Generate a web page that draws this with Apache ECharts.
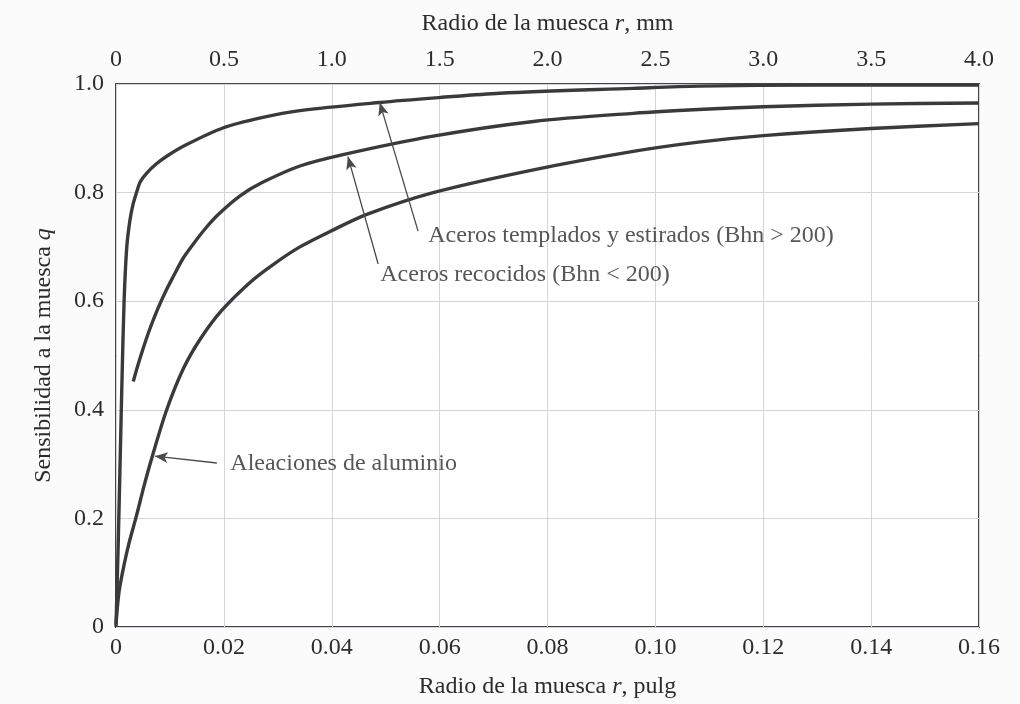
<!DOCTYPE html>
<html><head><meta charset="utf-8">
<script src="https://cdn.jsdelivr.net/npm/echarts@6/dist/echarts.min.js"></script>
<style>html,body{margin:0;padding:0;background:#fbfbfb}#c{width:1020px;height:704px}</style>
</head><body><div id="c"></div>
<script>
// Radio de la muesca r (pulg) and sensibilidad q
const templadosR = [0, 0.0004, 0.0008, 0.0011, 0.0015, 0.002, 0.0026, 0.0032, 0.0038, 0.0045, 0.0057, 0.0075, 0.0094, 0.013, 0.0198, 0.027, 0.0341, 0.0489, 0.06, 0.0712, 0.0959, 0.108, 0.13, 0.16];
const templadosQ = [0, 0.15, 0.32, 0.45, 0.60, 0.70, 0.75, 0.78, 0.80, 0.82, 0.836, 0.853, 0.867, 0.888, 0.919, 0.938, 0.951, 0.966, 0.975, 0.983, 0.992, 0.996, 0.998, 0.998];
const recocidosR = [0.0032, 0.0040, 0.0050, 0.0062, 0.0077, 0.0092, 0.0106, 0.0125, 0.0143, 0.0165, 0.0190, 0.023, 0.027, 0.0341, 0.0421, 0.0588, 0.0774, 0.0959, 0.108, 0.120, 0.140, 0.16];
const recocidosQ = [0.452, 0.480, 0.512, 0.547, 0.585, 0.618, 0.645, 0.680, 0.705, 0.733, 0.760, 0.794, 0.818, 0.849, 0.870, 0.904, 0.931, 0.946, 0.953, 0.958, 0.963, 0.965];
const aluminioR = [0, 0.0005, 0.0012, 0.0023, 0.0038, 0.0052, 0.0066, 0.0094, 0.0125, 0.0156, 0.0196, 0.025, 0.0292, 0.0341, 0.040, 0.0465, 0.0588, 0.0774, 0.0959, 0.108, 0.12, 0.14, 0.16];
const aluminioQ = [0.005, 0.06, 0.10, 0.15, 0.205, 0.26, 0.31, 0.40, 0.476, 0.530, 0.583, 0.636, 0.668, 0.70, 0.730, 0.760, 0.80, 0.842, 0.876, 0.893, 0.905, 0.918, 0.927];

// Tick labels
const bottomTicks = ['0', '0.02', '0.04', '0.06', '0.08', '0.10', '0.12', '0.14', '0.16'];
const topTicks = ['0', '0.5', '1.0', '1.5', '2.0', '2.5', '3.0', '3.5', '4.0'];
const leftTicks = ['0', '0.2', '0.4', '0.6', '0.8', '1.0'];

// Annotations (data coordinates: r in pulg, q)
const labelTexts = ['Aceros templados y estirados (Bhn > 200)', 'Aceros recocidos (Bhn < 200)', 'Aleaciones de aluminio'];
const labelR = [0.0578, 0.0489, 0.0211];
const labelQ = [0.72, 0.648, 0.300];
const arrowTailR = [0.0560, 0.0486, 0.0187];
const arrowTailQ = [0.729, 0.6685, 0.302];
const arrowHeadR = [0.0489, 0.0430, 0.0072];
const arrowHeadQ = [0.9658, 0.8663, 0.3145];

const zip = (a, b) => a.map((v, i) => [v, b[i]]);
const FONT = '"Liberation Serif", "DejaVu Serif", serif';
const INK = '#3a3a3a';
const TXT = '#2c2c2c';

const curveStyle = { color: INK, width: 3.4 };
function curve(name, r, q) {
  return {
    name, type: 'line', data: zip(r, q), showSymbol: false, symbol: 'none',
    smooth: 0.3, lineStyle: curveStyle, silent: true,
    xAxisIndex: 0, yAxisIndex: 0, z: 3
  };
}

const chart = echarts.init(document.getElementById('c'), null, { renderer: 'canvas' });
chart.setOption({
  animation: false,
  backgroundColor: '#fbfbfb',
  textStyle: { fontFamily: FONT, color: TXT },
  grid: { left: 116, right: 41, top: 84, bottom: 74, show: true, backgroundColor: '#ffffff', borderColor: '#454545', borderWidth: 2 },
  xAxis: [
    {
      type: 'value', position: 'bottom', min: 0, max: 0.16, interval: 0.02,
      axisLine: { show: false }, axisTick: { show: false },
      splitLine: { show: true, lineStyle: { color: '#d4d4dc', width: 1 } },
      axisLabel: { fontFamily: FONT, fontSize: 24, color: TXT, margin: 9,
        formatter: v => bottomTicks[Math.round(v / 0.02)] },
      name: 'Radio de la muesca {i|r}, pulg', nameLocation: 'middle', nameGap: 48,
      nameTextStyle: { fontFamily: FONT, fontSize: 24, color: TXT,
        rich: { i: { fontFamily: FONT, fontSize: 24, fontStyle: 'italic', color: TXT } } }
    },
    {
      type: 'value', position: 'top', min: 0, max: 4, interval: 0.5,
      axisLine: { show: false }, axisTick: { show: false }, splitLine: { show: false },
      axisLabel: { fontFamily: FONT, fontSize: 24, color: TXT, margin: 12,
        formatter: v => topTicks[Math.round(v / 0.5)] },
      name: 'Radio de la muesca {i|r}, mm', nameLocation: 'middle', nameGap: 48,
      nameTextStyle: { fontFamily: FONT, fontSize: 24, color: TXT,
        rich: { i: { fontFamily: FONT, fontSize: 24, fontStyle: 'italic', color: TXT } } }
    }
  ],
  yAxis: [{
    type: 'value', min: 0, max: 1, interval: 0.2,
    axisLine: { show: false }, axisTick: { show: false },
    splitLine: { show: true, lineStyle: { color: '#d4d4dc', width: 1 } },
    axisLabel: { fontFamily: FONT, fontSize: 24, color: TXT, margin: 12,
      formatter: v => leftTicks[Math.round(v / 0.2)] },
    name: 'Sensibilidad a la muesca {i|q}', nameLocation: 'middle', nameGap: 60, nameRotate: 90,
    nameTextStyle: { fontFamily: FONT, fontSize: 24, color: TXT,
      rich: { i: { fontFamily: FONT, fontSize: 24, fontStyle: 'italic', color: TXT } } }
  }],
  series: [
    curve('Aceros templados y estirados (Bhn > 200)', templadosR, templadosQ),
    curve('Aceros recocidos (Bhn < 200)', recocidosR, recocidosQ),
    curve('Aleaciones de aluminio', aluminioR, aluminioQ),
    {
      type: 'scatter', xAxisIndex: 0, yAxisIndex: 0, symbolSize: 1,
      itemStyle: { color: 'rgba(0,0,0,0)' }, silent: true, z: 4,
      data: labelTexts.map((t, i) => ({ value: [labelR[i], labelQ[i]], name: t })),
      label: { show: true, position: 'right', distance: 0, formatter: p => p.name,
        fontFamily: FONT, fontSize: 24, color: TXT },
      markLine: {
        silent: true, symbol: ['none', 'arrow'], symbolSize: [8, 13],
        label: { show: false },
        itemStyle: { color: '#4a4a4a' },
        lineStyle: { color: '#4a4a4a', width: 1.3, type: 'solid' },
        data: labelTexts.map((t, i) => [
          { coord: [arrowTailR[i], arrowTailQ[i]] },
          { coord: [arrowHeadR[i], arrowHeadQ[i]] }
        ])
      }
    }
  ]
});
</script></body></html>
